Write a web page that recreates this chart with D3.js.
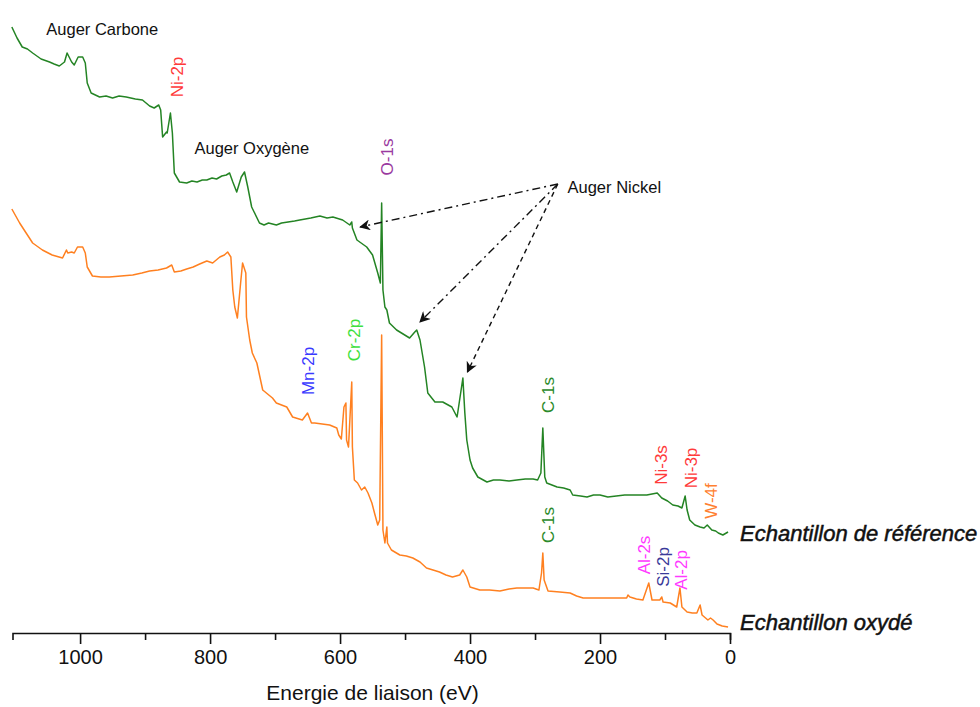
<!DOCTYPE html>
<html><head><meta charset="utf-8">
<script src="https://cdn.jsdelivr.net/npm/d3@7"></script>
<style>
html,body{margin:0;padding:0;background:#fff;}
svg{display:block;font-family:"Liberation Sans",Arial,sans-serif;}
</style></head>
<body><svg id="chart" width="980" height="707"></svg>
<script>
// ---------- DATA ----------
// Binding energy (eV), intensity (arbitrary units)
const referenceSpectrum = [
 [1105,6.06],[1097,5.95],[1089,5.86],[1081,5.84],[1073,5.80],[1060,5.74],[1047,5.71],[1040,5.69],[1032,5.67],[1024,5.71],[1020,5.80],[1013,5.71],[1009,5.68],
 [1003,5.76],[996,5.76],[992,5.70],[989,5.50],[983,5.40],[970,5.36],[960,5.37],[950,5.35],[940,5.37],[929,5.36],[915,5.34],[904,5.33],[893,5.27],
 [886,5.25],[879,5.28],[876,5.23],[873,4.96],[867,5.01],[866,5.00],[861,5.20],[858,5.00],[855,4.60],[847,4.51],
 [836,4.50],[828,4.52],[820,4.51],[812,4.53],[805,4.53],[797,4.55],[790,4.54],[782,4.57],[775,4.58],[770,4.60],[765,4.51],[759,4.41],[752,4.56],[747,4.61],
 [742,4.46],[736,4.26],[724,4.10],[717,4.08],[710,4.10],[698,4.08],[690,4.10],[680,4.11],[670,4.12],[662,4.13],[645,4.15],[638,4.16],[631,4.17],[620,4.15],[611,4.16],[596,4.13],
 [585,4.08],[582,4.11],[581,4.05],[574,3.93],[559,3.86],[550,3.78],[542,3.60],[538,3.50],[536,4.30],[534,3.43],
 [531,3.26],[528,3.23],[524,3.10],[513,3.03],[493,2.95],[485,3.01],[482,3.03],[477,2.93],[470,2.66],[465,2.40],
 [454,2.31],[442,2.31],[428,2.26],[420,2.16],[419,2.20],[411,2.55],[408,2.20],[405,1.93],[400,1.73],[396,1.65],
 [388,1.56],[374,1.51],[364,1.53],[354,1.53],[340,1.52],[328,1.53],[315,1.54],[303,1.54],[296,1.53],[291,1.60],[288,2.05],[285,1.56],[282,1.50],
 [274,1.48],[266,1.46],[256,1.45],[246,1.43],[242,1.38],[230,1.37],[220,1.36],[210,1.38],[200,1.38],[188,1.36],[175,1.37],[162,1.38],[149,1.38],[128,1.38],[112,1.40],[105,1.35],
 [96,1.32],[88,1.28],[80,1.27],[74,1.25],[69,1.37],[66,1.23],[62,1.13],[54,1.08],[46,1.06],[40,1.05],[35,1.08],[28,1.03],[22,1.02],[18,1.00],[11,0.98],[3,1.01]
];
const oxidizedSpectrum = [
 [1105,4.24],[1093,4.10],[1083,4.00],[1073,3.90],[1058,3.83],[1043,3.78],[1027,3.75],[1021,3.83],[1019,3.80],[1013,3.81],
 [1009,3.80],[1004,3.86],[996,3.86],[992,3.80],[989,3.66],[981,3.57],[968,3.56],[955,3.56],[937,3.57],[919,3.58],[905,3.60],[893,3.62],[880,3.63],[867,3.65],
 [859,3.68],[855,3.61],[845,3.62],[836,3.64],[826,3.66],[816,3.69],[805,3.72],[796,3.70],[785,3.76],[778,3.78],[773,3.81],[768,3.76],
 [765,3.43],[762,3.26],[758,3.15],[753,3.50],[750,3.70],[745,3.60],[744,3.16],[739,2.93],[735,2.80],[728,2.70],
 [719,2.43],[704,2.35],[698,2.30],[682,2.26],[673,2.16],[658,2.13],[650,2.20],[644,2.10],[639,2.10],[616,2.08],
 [605,2.05],[602,1.98],[598,1.94],[594,2.26],[591,2.30],[590,1.93],[587,1.86],[582,2.51],[581,1.86],[578,1.53],
 [573,1.50],[567,1.43],[562,1.46],[557,1.40],[551,1.30],[547,1.20],[542,1.08],[539,1.13],[536,2.98],[534,1.03],
 [531,0.90],[528,1.06],[527,0.90],[521,0.83],[508,0.78],[498,0.77],[488,0.75],[477,0.71],[467,0.65],[457,0.63],[447,0.61],[437,0.58],[427,0.56],
 [416,0.58],[411,0.63],[405,0.56],[400,0.46],[385,0.43],[370,0.43],[354,0.42],[340,0.44],[328,0.45],[315,0.45],[303,0.45],[294,0.43],[290,0.60],
 [288,0.80],[286,0.53],[280,0.42],[262,0.41],[246,0.40],[236,0.37],[226,0.35],[212,0.35],[200,0.35],[180,0.35],[159,0.35],[157,0.38],[154,0.36],
 [144,0.34],[134,0.33],[125,0.50],[120,0.33],[108,0.33],[105,0.36],[103,0.31],[92,0.30],[82,0.26],[77,0.45],[74,0.26],
 [66,0.21],[58,0.20],[51,0.20],[46,0.28],[43,0.18],[34,0.13],[30,0.15],[26,0.13],[20,0.09],[12,0.07],[3,0.06]
];
const seriesNames = ["Echantillon de référence", "Echantillon oxydé"];
const seriesLabelLevels = [1.00, 0.11];

const majorTicks = [1000, 800, 600, 400, 200, 0];
const minorTicks = [900, 700, 500, 300, 100];
const axisTitle = "Energie de liaison (eV)";

// peak labels: text, energy (eV), intensity level of label centre, colour group
const peakLabels = [
 {text:"Ni-2p", eV:850, level:5.56, kind:"Ni"},
 {text:"O-1s",  eV:527, level:4.76, kind:"O"},
 {text:"Mn-2p", eV:648, level:2.62, kind:"Mn"},
 {text:"Cr-2p", eV:578, level:2.93, kind:"Cr"},
 {text:"C-1s",  eV:280, level:2.38, kind:"C"},
 {text:"C-1s",  eV:280, level:1.08, kind:"C"},
 {text:"Ni-3s", eV:106, level:1.68, kind:"Ni"},
 {text:"Ni-3p", eV:60,  level:1.65, kind:"Ni"},
 {text:"W-4f",  eV:28,  level:1.32, kind:"W"},
 {text:"Al-2s", eV:132, level:0.78, kind:"Al"},
 {text:"Si-2p", eV:103, level:0.66, kind:"Si"},
 {text:"Al-2p", eV:74,  level:0.63, kind:"Al"}
];
const augerLabels = [
 {text:"Auger Carbone", eV:1052, level:6.04},
 {text:"Auger Oxygène", eV:824,  level:4.85},
 {text:"Auger Nickel",  eV:250,  level:4.46}
];
// Auger nickel arrows: from (eV, level) to (eV, level)
const arrowStart = [265, 4.49];
const arrowTargets = [[569, 4.06],[477, 3.11],[404, 2.61]];

// ---------- STYLE ----------
const colours = {ref:"#248424", ox:"#ff8020",
 Ni:"#ff3a3a", O:"#9a3aa0", Mn:"#3a3aff", Cr:"#3ee03e", C:"#2b8a2b", W:"#ff8030", Al:"#ff3aff", Si:"#3a3a99"};

// ---------- CHART ----------
const svg = d3.select("#chart");
const x = d3.scaleLinear().domain([1104, 0]).range([12.5, 730]);
const y = d3.scaleLinear().domain([0, 6.33]).range([633, 0]);

const line = d3.line().x(d => x(d[0])).y(d => y(d[1]));

svg.append("path").datum(oxidizedSpectrum).attr("d", line)
  .attr("fill","none").attr("stroke",colours.ox).attr("stroke-width",1.5).attr("stroke-linejoin","round");
svg.append("path").datum(referenceSpectrum).attr("d", line)
  .attr("fill","none").attr("stroke",colours.ref).attr("stroke-width",1.5).attr("stroke-linejoin","round");

// axis
const axisG = svg.append("g").attr("transform", `translate(0,${y(0)})`);
const majorAxis = d3.axisBottom(x).tickValues(majorTicks).tickFormat(d3.format("d"))
  .tickSizeInner(11).tickSizeOuter(7).tickPadding(6);
axisG.call(majorAxis);
const minorAxis = d3.axisBottom(x).tickValues(minorTicks).tickFormat("").tickSizeInner(7).tickSizeOuter(0);
axisG.append("g").call(minorAxis).select(".domain").remove();
axisG.selectAll(".domain, line").attr("stroke","#111").attr("stroke-width",1.6);
axisG.selectAll("text").attr("font-size",20).attr("fill","#111")
  .attr("font-family","'Liberation Sans',Arial,sans-serif");

svg.append("text").attr("x", x(550)).attr("y", 700).attr("text-anchor","middle")
  .attr("font-size",21).attr("fill","#111").text(axisTitle);

// series labels
seriesNames.forEach((n,i) => {
  svg.append("text").attr("x", x(0) + 10).attr("y", y(seriesLabelLevels[i]))
    .attr("dominant-baseline","central").attr("font-size",22).attr("font-style","italic")
    .attr("fill","#111").attr("stroke","#111").attr("stroke-width",0.5).text(n);
});

// peak labels (rotated)
peakLabels.forEach(p => {
  svg.append("text")
    .attr("transform", `translate(${x(p.eV)},${y(p.level)}) rotate(-90)`)
    .attr("text-anchor","middle").attr("dominant-baseline","central")
    .attr("font-size",17).attr("fill",colours[p.kind]).text(p.text);
});

// Auger labels
augerLabels.forEach(a => {
  svg.append("text").attr("x", x(a.eV)).attr("y", y(a.level))
    .attr("dominant-baseline","central").attr("font-size",16.5).attr("fill","#111").text(a.text);
});

// arrows
const defs = svg.append("defs");
defs.append("marker").attr("id","arrowhead").attr("viewBox","0 0 10 10")
  .attr("refX",9).attr("refY",5).attr("markerWidth",11).attr("markerHeight",11)
  .attr("markerUnits","userSpaceOnUse").attr("orient","auto")
  .append("path").attr("d","M0,0 L10,5 L0,10 L3,5 Z").attr("fill","#111");
const dashes = ["8,4,2,4","8,4,2,4","5,4"];
arrowTargets.forEach((t,i) => {
  svg.append("line")
    .attr("x1", x(arrowStart[0])).attr("y1", y(arrowStart[1]))
    .attr("x2", x(t[0])).attr("y2", y(t[1]))
    .attr("stroke","#111").attr("stroke-width",1.4).attr("stroke-dasharray",dashes[i])
    .attr("marker-end","url(#arrowhead)");
});
</script>
</body></html>
